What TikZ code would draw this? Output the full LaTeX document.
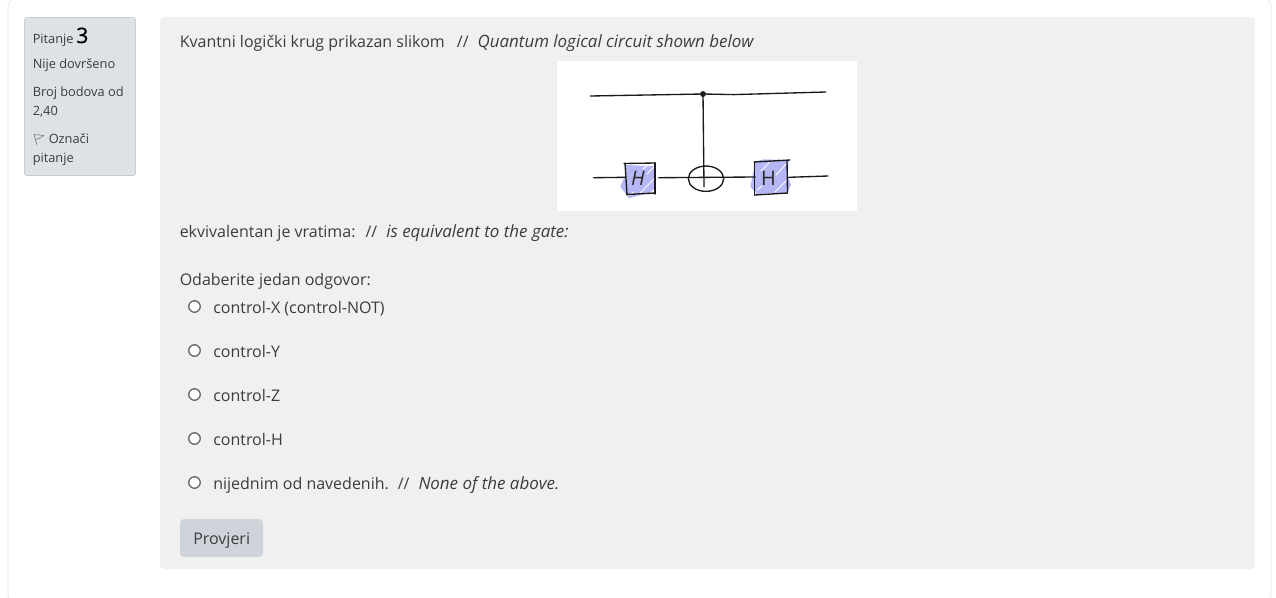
\documentclass[tikz,border=0pt]{standalone}
\usepackage{fontspec}
\setmainfont{Open Sans}
\definecolor{inkText}{HTML}{3A3D40}
\definecolor{panelGray}{HTML}{F0F0F0}
\definecolor{infoGray}{HTML}{DEE2E6}
\definecolor{infoEdge}{HTML}{C8CDD2}
\definecolor{cardEdge}{HTML}{E2E2E2}
\definecolor{buttonGray}{HTML}{CED4DA}
\definecolor{gateBlue}{HTML}{B7B7F5}
\usetikzlibrary{shapes, positioning, calc}
\newcommand{\gloss}[1]{{\fontsize{12.7}{14}\selectfont\itshape #1}}

\begin{document}
\begin{tikzpicture}[
    x=0.75pt, y=-0.75pt,
    label/.style={anchor=base west, inner sep=0pt, text=inkText, font=\fontsize{12}{14}\selectfont},
    small/.style={anchor=base west, inner sep=0pt, text=inkText, font=\fontsize{9.6}{12}\selectfont},
    radio/.style={circle, draw=black!60, line width=1pt, fill=white, minimum size=8.6pt, inner sep=0pt},
    pen/.style={line width=1pt, black!90, line cap=round},
    shade/.style={white, line width=0.7pt, line cap=round},
    gatetext/.style={inner sep=0pt, font=\fontsize{15}{16}\selectfont, text=black!85}
  ]
    \useasboundingbox (0,0) rectangle (1276,597);
    \fill[white] (0,0) rectangle (1276,597);
    \draw[cardEdge, rounded corners=6pt] (8,-2) rectangle (1271,603);

    % info block
    \node[draw=infoEdge, fill=infoGray, rounded corners=1.5pt, minimum width=83.25pt, minimum height=118.5pt, inner sep=0pt] (info) at (80,96.5) {};
    \node[small] (num) at (32.5,43) {Pitanje};
    \node[anchor=base west, inner sep=0pt, font=\fontsize{16}{18}\selectfont\addfontfeature{FakeBold=0.6}, text=black] (numval) at (76,43) {3};
    \node[small] (state) at (32.5,68) {Nije dovršeno};
    \node[small] (grade) at (32.5,96) {Broj bodova od};
    \node[small] (gradeval) at (32.5,115) {2,40};
    \node[small] (mark) at (48.5,143) {Označi};
    \node[small] (markb) at (32.5,162) {pitanje};
    \draw[black!50, line width=0.5pt, line join=round] (37,145) -- (34,134.5) -- (44,135.5) -- (38,139) -- (35,139);

    % question block
    \node[fill=panelGray, rounded corners=3pt, minimum width=821.25pt, minimum height=414pt, inner sep=0pt] (panel) at (707.5,293) {};
    \node[label] (intro) at (179.5,47) {Kvantni logički krug prikazan slikom \enspace//\hspace{3.6pt} \gloss{Quantum logical circuit shown below}};
    \node[fill=white, minimum width=225pt, minimum height=112.5pt, inner sep=0pt] (pic) at (707,136) {};

    % circuit
    \fill[gateBlue] (625.3,165) -- (653.7,166) -- (655.7,186.7) -- (650.3,193) -- (640,195) -- (628.7,198.3) -- (625.3,193.3) -- (620.3,186.7) -- (625.3,175) -- cycle;
    \draw[shade] (640,193) -- (654,179);
    \draw[shade] (647,174) -- (654,167);
    \draw[shade] (643,169) -- (647,165.5);
    \draw[shade] (628,196) -- (634,192);
    \fill[gateBlue] (755.3,161.7) -- (763.7,159.3) -- (788.7,160) -- (787.7,175) -- (791,185) -- (787,192.7) -- (757,194) -- (750.3,186.7) -- cycle;
    \draw[shade] (776,175) -- (786,164);
    \draw[shade] (761,171) -- (770,162);
    \draw[shade] (775,192) -- (787,180);
    \draw[shade] (757,190) -- (762,186);

    \node[gatetext, font=\fontsize{15}{16}\selectfont\itshape] (hl) at (638,178.5) {H};
    \node[gatetext] (hr) at (768.5,178) {H};
    \node[draw=black!90, line width=1pt, ellipse, minimum width=26.5pt, minimum height=19pt, inner sep=0pt] (xor) at (706,178.7) {};
    \node[circle, fill=black!85, minimum size=4.5pt, inner sep=0pt] (ctrl) at (703,94) {};

    \coordinate (ta) at (590.3,96);
    \coordinate (tb) at (733.7,94.6);
    \coordinate (tc) at (825.7,92);
    \coordinate (ba) at (593.7,177.7);
    \coordinate (bb) at (625.3,177.3);
    \coordinate (bc) at (658.7,177.7);
    \coordinate (bd) at (755.3,177);
    \coordinate (be) at (788.7,177.3);
    \coordinate (bf) at (828,176);
    \coordinate (xb) at (704,186.7);

    \draw[pen] (ta) -- (ctrl.center) -- (tb) -- (tc);
    \draw[pen] (ctrl.center) -- (xb);
    \draw[pen] (ba) -- (bb);
    \draw[pen] (bc) -- (bd);
    \draw[pen] (be) -- (bf);

    \draw[pen] (624,163.5) -- (655.5,163);
    \draw[pen] (625,163) -- (627,195);
    \draw[pen] (655,163) -- (655,194);
    \draw[pen] (627,194.5) -- (655,193);
    \draw[pen] (754,162) -- (790,160);
    \draw[pen] (754.5,162) -- (754.5,195);
    \draw[pen] (787,160.5) -- (787.5,193);
    \draw[pen] (754.5,195) -- (787.5,193);

    \node[label] (outro) at (179.5,237) {ekvivalentan je vratima:\hspace{3.4pt} //\hspace{3.6pt} \gloss{is equivalent to the gate:}};
    \node[label] (prompt) at (179.5,285) {Odaberite jedan odgovor:};

    % answers
    \node[radio] (ra) at (194.5,306.5) {};
    \node[radio] (rb) at (194.5,350.5) {};
    \node[radio] (rc) at (194.5,394.5) {};
    \node[radio] (rd) at (194.5,438.5) {};
    \node[radio] (re) at (194.5,482.5) {};
    \node[label] (aa) at (213,313) {control-X (control-NOT)};
    \node[label] (ab) at (213,357) {control-Y};
    \node[label] (ac) at (213,401) {control-Z};
    \node[label] (ad) at (213,445) {control-H};
    \node[label] (ae) at (213,489) {nijednim od navedenih.\hspace{2.5pt} //\hspace{3.6pt} \gloss{None of the above.}};

    \node[fill=buttonGray, rounded corners=3pt, minimum width=62.25pt, minimum height=28.5pt, inner sep=0pt] (check) at (221.5,538) {};
    \node[label] (checktext) at (193,544) {Provjeri};
  \end{tikzpicture}
\end{document}
